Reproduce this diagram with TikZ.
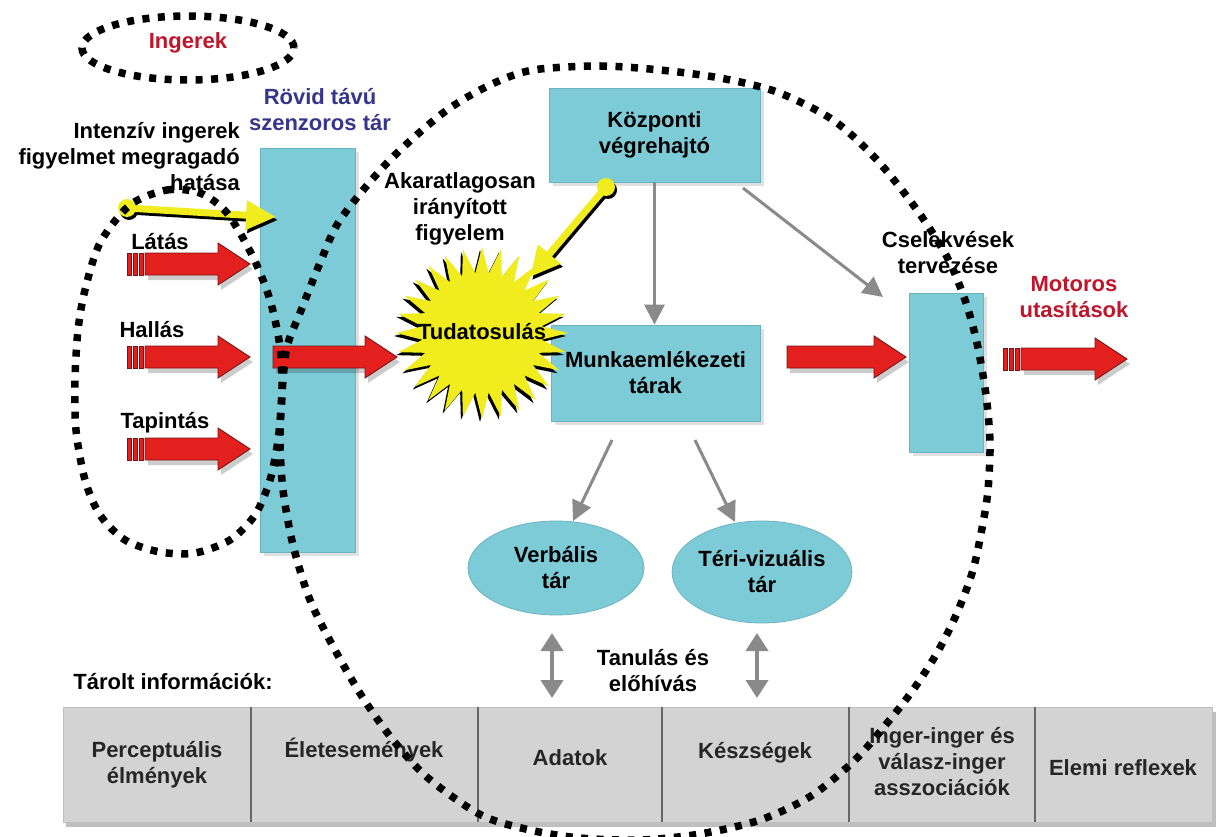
\documentclass[tikz,border=0pt]{standalone}
\usepackage{fontspec}
\setmainfont{Liberation Sans}
\usetikzlibrary{arrows.meta,calc,shapes.geometric}

\definecolor{boxblue}{HTML}{7ECBD8}
\definecolor{boxedge}{HTML}{6AB3C2}
\definecolor{redfill}{HTML}{E4201F}
\definecolor{rededge}{HTML}{7A1515}
\definecolor{yel}{HTML}{F0EC1E}
\definecolor{grayarr}{HTML}{8A8A8A}
\definecolor{bargray}{HTML}{D3D3D3}
\definecolor{txtred}{HTML}{C0162C}
\definecolor{txtblue}{HTML}{36358C}

\newcommand{\redarrow}[2]{%
 \fill[black,opacity=0.2] ($(#1)+(3,-6)$) -- ($(#2)+(-29,-6)$) -- ($(#2)+(-29,-16)$) -- ($(#2)+(3,5)$) -- ($(#2)+(-29,26)$) -- ($(#2)+(-29,16)$) -- ($(#1)+(3,16)$) -- cycle;
 \filldraw[redarr] ($(#1)+(0,-11)$) -- ($(#2)+(-32,-11)$) -- ($(#2)+(-32,-21)$) -- (#2) -- ($(#2)+(-32,21)$) -- ($(#2)+(-32,11)$) -- ($(#1)+(0,11)$) -- cycle;}
\newcommand{\stripes}[1]{%
 \foreach \s in {0,6,12} {\filldraw[redarr] ($(#1)+(\s,-11)$) rectangle ($(#1)+(\s+4,11)$);}}
\newcommand{\yelarrow}[2]{%
 \draw[line width=7pt,black,-{Triangle[length=30pt,width=28pt]}] ($(#1)+(2,3)$) -- ($(#2)+(2,3)$);
 \fill[black] ($(#1)+(2,3)$) circle[radius=9pt];
 \draw[line width=7pt,yel,-{Triangle[length=30pt,width=28pt]}] (#1) -- (#2);
 \fill[yel] (#1) circle[radius=9pt];}

\begin{document}
\begin{tikzpicture}[x=1pt,y=-1pt,
 lbl/.style={font=\bfseries\fontsize{22}{26}\selectfont, align=center, inner sep=0pt},
 celltxt/.style={font=\bfseries\fontsize{22}{26}\selectfont, align=center, inner sep=0pt, text=black!85},
 box/.style={draw=boxedge, fill=boxblue, line width=0.8pt, inner sep=0pt},
 dots/.style={line width=7.5pt, dash pattern=on 7pt off 8.5pt, black},
 redarr/.style={fill=redfill, draw=rededge, line width=0.9pt},
 garrow/.style={draw=grayarr, line width=3pt, -{Triangle[length=20pt,width=20pt]}},
 darrow/.style={draw=grayarr, line width=4pt, {Triangle[length=18pt,width=22pt]}-{Triangle[length=18pt,width=22pt]}},
 shadowc/.style={fill=black,opacity=0.12}]
\useasboundingbox[fill=white] (0,0) rectangle (1218,837);

% ---- boxes ----
\fill[shadowc] (264,152) rectangle (359,556);
\node[box, minimum width=95pt, minimum height=404pt] (stm) at (307.5,350) {};
\fill[shadowc] (553,92) rectangle (764,186);
\node[box, lbl, minimum width=211pt, minimum height=94pt] (kv) at (654.5,135) {Központi\\végrehajtó};
\fill[shadowc] (555,329) rectangle (764,425);
\node[box, lbl, minimum width=209pt, minimum height=96pt] (mt) at (655.5,373) {Munkaemlékezeti\\tárak};
\fill[shadowc] (913,297) rectangle (987,456);
\node[box, minimum width=74pt, minimum height=159pt] (plan) at (946,372.5) {};
\node[box, lbl, ellipse, minimum width=176pt, minimum height=94pt] (vt) at (556,568) {Verbális\\tár};
\node[box, lbl, ellipse, minimum width=178pt, minimum height=102pt] (tv) at (762,572) {Téri-vizuális\\tár};

% ---- starburst ----
\coordinate (sc) at (482,333);
\fill[black] ($(sc)+(-2,3)+(0:86)$) \foreach \i in {0,...,27} { -- ($(sc)+(-2,3)+({\i*360/28+180/28}:60)$) -- ($(sc)+(-2,3)+({(\i+1)*360/28}:86)$) } -- cycle;
\fill[yel] ($(sc)+(0:86)$) \foreach \i in {0,...,27} { -- ($(sc)+({\i*360/28+180/28}:60)$) -- ($(sc)+({(\i+1)*360/28}:86)$) } -- cycle;
\node[lbl] (tud) at (482,332) {Tudatosulás};

% ---- red arrows ----
\coordinate (la0) at (127,264); \coordinate (la1) at (145,264); \coordinate (lat) at (250,264);
\coordinate (ha0) at (127,357); \coordinate (ha1) at (145,357); \coordinate (hat) at (250,357);
\coordinate (ta0) at (127,449); \coordinate (ta1) at (145,449); \coordinate (tat) at (250,449);
\coordinate (m0) at (273,357);  \coordinate (mtip) at (397,357);
\coordinate (r0) at (787,357);  \coordinate (rtip) at (906,357);
\coordinate (o0) at (1003,359); \coordinate (o1) at (1021,359); \coordinate (otip) at (1127,359);
\stripes{la0} \redarrow{la1}{lat}
\stripes{ha0} \redarrow{ha1}{hat}
\stripes{ta0} \redarrow{ta1}{tat}
\redarrow{m0}{mtip}
\redarrow{r0}{rtip}
\stripes{o0} \redarrow{o1}{otip}

% ---- yellow arrows ----
\coordinate (y1s) at (127,208); \coordinate (y1t) at (276,217);
\coordinate (y2s) at (606,187); \coordinate (y2t) at (530,277);
\yelarrow{y1s}{y1t}
\yelarrow{y2s}{y2t}

% ---- gray arrows ----
\draw[garrow] (kv.south) -- (kv.south |- mt.north);
\coordinate (d1) at (743,188); \coordinate (d2) at (883,297);
\draw[garrow] (d1) -- (d2);
\coordinate (e1) at (612,440); \coordinate (e2) at (573,521);
\coordinate (f1) at (695,440); \coordinate (f2) at (735,522);
\draw[garrow] (e1) -- (e2);
\draw[garrow] (f1) -- (f2);
\coordinate (g1) at (552,633); \coordinate (g2) at (552,698);
\coordinate (h1) at (757,633); \coordinate (h2) at (757,698);
\draw[darrow] (g1) -- (g2);
\draw[darrow] (h1) -- (h2);

% ---- bottom bar ----
\fill[black!25] (66,712) rectangle (1216,827);
\filldraw[fill=bargray, draw=black!25] (63,707) rectangle (1212,822);
\foreach \xx in {251,478,662,849,1035} {\draw[black!60, line width=1.3pt] (\xx,707) -- (\xx,822);}
\node[celltxt] (c1) at (157,765) {Perceptuális\\élmények};
\node[celltxt] (c2) at (364,750) {Életesemények};
\node[celltxt] (c3) at (570,758) {Adatok};
\node[celltxt] (c4) at (755,753) {Készségek};
\node[celltxt] (c5) at (942,762) {Inger-inger és\\válasz-inger\\asszociációk};
\node[celltxt] (c6) at (1123,768) {Elemi reflexek};

% ---- labels ----
\node[lbl, text=txtred] (ing) at (188,43) {Ingerek};
\node[lbl, text=txtblue] (rov) at (320,110) {Rövid távú\\szenzoros tár};
\node[lbl, align=right, anchor=east] (int) at (240,157) {Intenzív ingerek\\figyelmet megragadó\\hatása};
\node[lbl] (lat-l) at (160,242) {Látás};
\node[lbl] (hal-l) at (152,330) {Hallás};
\node[lbl] (tap-l) at (165,423) {Tapintás};
\node[lbl] (aka) at (460,209) {Akaratlagosan\\irányított\\figyelem};
\node[lbl] (cse) at (948,253) {Cselekvések\\tervezése};
\node[lbl, text=txtred] (mot) at (1074,297) {Motoros\\utasítások};
\node[lbl] (tan) at (653,671) {Tanulás és\\előhívás};
\node[lbl] (tar) at (173,682) {Tárolt információk:};

% ---- dotted outlines ----
\draw[dots] (188,48) ellipse [x radius=106pt, y radius=32pt];
\draw[dots] plot[smooth cycle] coordinates {(130,205) (167,190) (200,193) (227,213) (253,257) (270,300) (280,347) (282,393) (278,440) (270,480) (255,515) (230,540) (195,553) (160,552) (125,540) (100,515) (85,480) (76,430) (75,380) (78,330) (85,290) (100,243)};
\draw[dots] plot[smooth cycle] coordinates {(533,70) (600,66) (660,70) (720,78) (777,92) (833,120) (877,160) (917,210) (947,257) (965,300) (977,343) (986,395) (990,443) (988,490) (983,523) (973,570) (957,613) (937,653) (913,690) (888,722) (855,760) (811,796) (760,820) (700,834) (640,840) (580,838) (530,830) (481,815) (428,778) (393,740) (363,698) (335,650) (310,600) (293,545) (283,490) (280,440) (282,393) (287,347) (300,313) (320,263) (340,220) (387,163) (443,113) (490,85)};
\end{tikzpicture}
\end{document}
